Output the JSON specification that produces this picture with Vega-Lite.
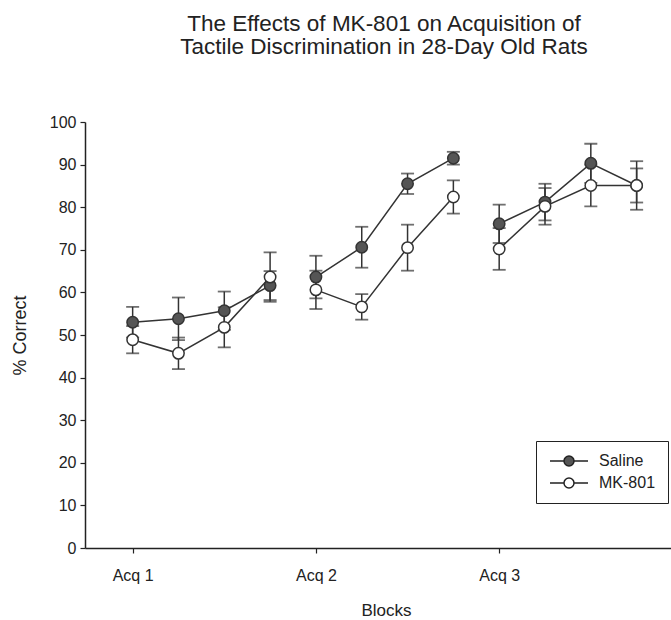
{
  "$schema": "https://vega.github.io/schema/vega-lite/v6.json",
  "width": 586,
  "height": 426,
  "autosize": {"type": "none"},
  "padding": {"left": 85, "top": 122, "right": 0, "bottom": 72},
  "background": "white",
  "title": {
    "text": ["The Effects of MK-801 on Acquisition of", "Tactile Discrimination in 28-Day Old Rats"],
    "font": "Liberation Sans",
    "fontSize": 22.5,
    "fontWeight": "normal",
    "color": "#222",
    "anchor": "middle",
    "lineHeight": 23,
    "dx": 6,
    "offset": 56
  },
  "config": {
    "view": {"stroke": null},
    "font": "Liberation Sans",
    "axis": {
      "domainColor": "#222",
      "domainWidth": 1.5,
      "tickColor": "#222",
      "tickWidth": 1.2,
      "tickSize": 5,
      "labelColor": "#222",
      "titleColor": "#222",
      "labelFont": "Liberation Sans",
      "titleFont": "Liberation Sans",
      "titleFontWeight": "normal",
      "grid": false
    }
  },
  "data": {
    "values": [
      {"block": 1, "acq": 1, "group": "Saline", "mean": 53.0, "lo": 49.4, "hi": 56.6},
      {"block": 2, "acq": 1, "group": "Saline", "mean": 53.8, "lo": 48.8, "hi": 58.8},
      {"block": 3, "acq": 1, "group": "Saline", "mean": 55.7, "lo": 51.2, "hi": 60.2},
      {"block": 4, "acq": 1, "group": "Saline", "mean": 61.6, "lo": 58.2, "hi": 65.0},
      {"block": 5, "acq": 2, "group": "Saline", "mean": 63.6, "lo": 58.6, "hi": 68.6},
      {"block": 6, "acq": 2, "group": "Saline", "mean": 70.6, "lo": 65.8, "hi": 75.4},
      {"block": 7, "acq": 2, "group": "Saline", "mean": 85.5, "lo": 83.1, "hi": 87.9},
      {"block": 8, "acq": 2, "group": "Saline", "mean": 91.5, "lo": 90.0, "hi": 93.0},
      {"block": 9, "acq": 3, "group": "Saline", "mean": 76.1, "lo": 71.6, "hi": 80.6},
      {"block": 10, "acq": 3, "group": "Saline", "mean": 81.2, "lo": 76.9, "hi": 85.5},
      {"block": 11, "acq": 3, "group": "Saline", "mean": 90.3, "lo": 85.7, "hi": 94.9},
      {"block": 12, "acq": 3, "group": "Saline", "mean": 85.1, "lo": 81.1, "hi": 89.1},
      {"block": 1, "acq": 1, "group": "MK-801", "mean": 48.9, "lo": 45.7, "hi": 52.1},
      {"block": 2, "acq": 1, "group": "MK-801", "mean": 45.7, "lo": 42.0, "hi": 49.4},
      {"block": 3, "acq": 1, "group": "MK-801", "mean": 51.8, "lo": 47.1, "hi": 56.5},
      {"block": 4, "acq": 1, "group": "MK-801", "mean": 63.6, "lo": 57.8, "hi": 69.4},
      {"block": 5, "acq": 2, "group": "MK-801", "mean": 60.6, "lo": 56.1, "hi": 65.1},
      {"block": 6, "acq": 2, "group": "MK-801", "mean": 56.6, "lo": 53.6, "hi": 59.6},
      {"block": 7, "acq": 2, "group": "MK-801", "mean": 70.5, "lo": 65.1, "hi": 75.9},
      {"block": 8, "acq": 2, "group": "MK-801", "mean": 82.4, "lo": 78.5, "hi": 86.3},
      {"block": 9, "acq": 3, "group": "MK-801", "mean": 70.2, "lo": 65.3, "hi": 75.1},
      {"block": 10, "acq": 3, "group": "MK-801", "mean": 80.2, "lo": 75.9, "hi": 84.5},
      {"block": 11, "acq": 3, "group": "MK-801", "mean": 85.1, "lo": 80.2, "hi": 90.0},
      {"block": 12, "acq": 3, "group": "MK-801", "mean": 85.1, "lo": 79.4, "hi": 90.8}
    ]
  },
  "encoding": {
    "x": {
      "field": "block",
      "type": "quantitative",
      "scale": {"domain": [-0.04, 12.75], "nice": false, "zero": false},
      "axis": {
        "title": "Blocks",
        "values": [1, 5, 9],
        "labelExpr": "'Acq ' + ((datum.value - 1) / 4 + 1)",
        "labelFontSize": 16,
        "labelPadding": 14,
        "titleFontSize": 17,
        "titlePadding": 19,
        "titleX": 301
      }
    }
  },
  "layer": [
    {
      "mark": {"type": "line", "color": "#333", "strokeWidth": 1.5},
      "encoding": {
        "y": {
          "field": "mean",
          "type": "quantitative",
          "title": "% Correct",
          "scale": {"domain": [0, 100], "nice": false},
          "axis": {
            "title": "% Correct",
            "values": [0, 10, 20, 30, 40, 50, 60, 70, 80, 90, 100],
            "labelFontSize": 16,
            "labelPadding": 4,
            "titleFontSize": 18,
            "titlePadding": 20
          }
        },
        "detail": [{"field": "group"}, {"field": "acq"}]
      }
    },
    {
      "mark": {
        "type": "errorbar",
        "color": "#333",
        "rule": {"strokeWidth": 1.5},
        "ticks": {"size": 13, "thickness": 1.8, "color": "#333"}
      },
      "encoding": {
        "y": {"field": "lo", "type": "quantitative", "title": "% Correct"},
        "y2": {"field": "hi"},
        "detail": {"field": "group"}
      }
    },
    {
      "mark": {"type": "point", "shape": "circle", "size": 130, "stroke": "#333", "strokeWidth": 1.5, "opacity": 1, "filled": false},
      "encoding": {
        "y": {"field": "mean", "type": "quantitative", "title": "% Correct"},
        "fill": {
          "field": "group",
          "type": "nominal",
          "scale": {"domain": ["Saline", "MK-801"], "range": ["#555555", "#ffffff"]},
          "legend": {
            "title": null,
            "orient": "none",
            "legendX": 451,
            "legendY": 319,
            "padding": 12,
            "strokeColor": "#222",
            "symbolType": "M-1.2,0L1.6,0M3.6,0L6.4,0M3.6,0A1,1,0,1,1,1.6,0A1,1,0,1,1,3.6,0Z",
            "symbolSize": 100,
            "symbolStrokeColor": "#222",
            "symbolStrokeWidth": 1.5,
            "labelFontSize": 16,
            "labelFont": "Liberation Sans",
            "labelColor": "#222",
            "labelOffset": 35,
            "rowPadding": 6
          }
        }
      }
    }
  ]
}
